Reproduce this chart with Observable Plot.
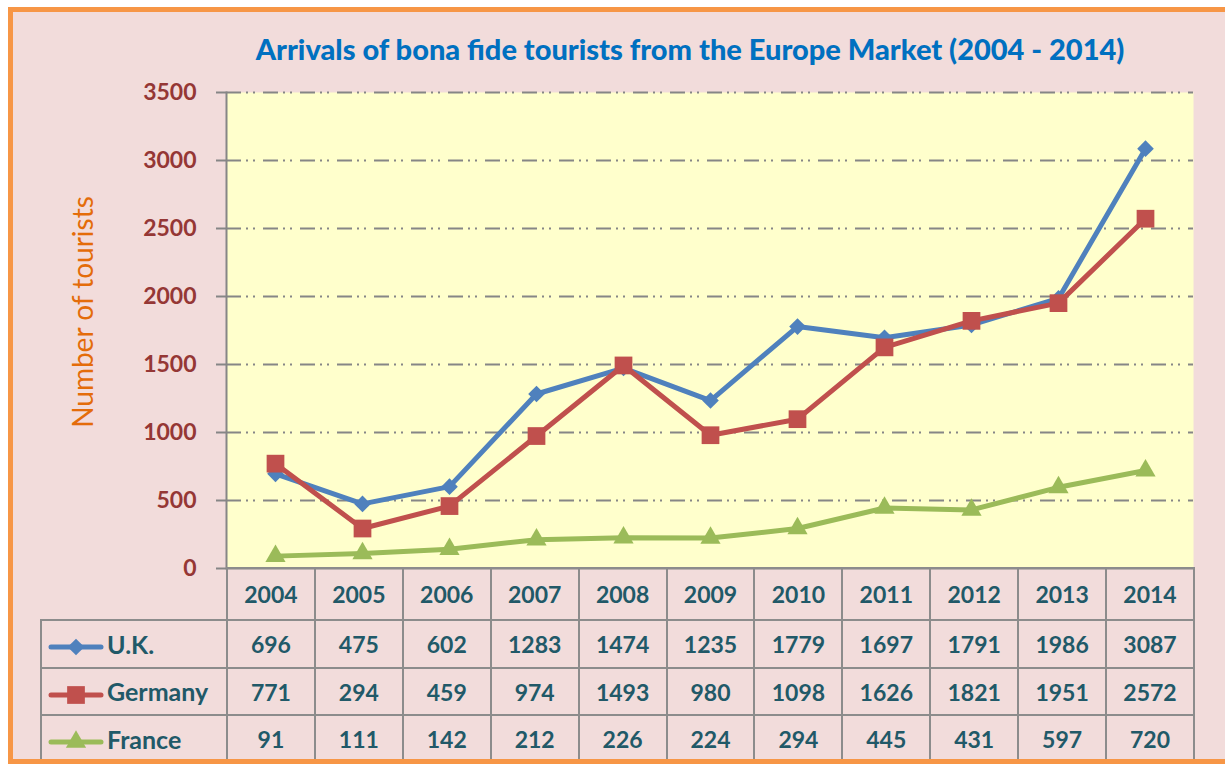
<!DOCTYPE html>
<html><head><meta charset="utf-8">
<script src="https://cdn.jsdelivr.net/npm/d3@7"></script>
<script src="https://cdn.jsdelivr.net/npm/@observablehq/plot@0.6"></script>
<style>
body{margin:0;background:#fff;}
#wrap{position:relative;width:1225px;height:764px;overflow:hidden;font-family:Lato,"Open Sans",sans-serif;}
#bg{position:absolute;left:8px;top:7px;width:1260px;height:757px;background:#f2dcdb;}
#frame{position:absolute;left:8px;top:7px;width:1260px;height:757px;border:5px solid #f79646;box-sizing:border-box;z-index:10;pointer-events:none;}
#title{position:absolute;left:190px;width:1000px;top:33px;text-align:center;color:#0070c0;font-weight:900;font-size:29px;line-height:32px;white-space:nowrap;}
#ylabel{position:absolute;left:82px;top:312px;transform:translate(-50%,-50%) rotate(-90deg);color:#e46c0a;font-size:28px;white-space:nowrap;}
#chart{position:absolute;left:0;top:0;}
#tbl{position:absolute;left:40px;top:567px;border-collapse:collapse;table-layout:fixed;color:#215968;font-weight:bold;font-size:23px;}
#tbl td{border:2px solid #8c8c8c;text-align:center;padding:0;}
#tbl td.blank{border-top:none;border-left:none;}
#tbl td.lab{text-align:left;padding-left:6px;white-space:nowrap;font-size:25px;}
#tbl td.lab svg{vertical-align:middle;margin-right:3px;}
</style></head>
<body>
<div id="wrap">
  <div id="bg"></div>
  <div id="title"></div>
  <div id="ylabel"></div>
  <div id="chart"></div>
  <div id="tbl-holder"></div>
  <div id="frame"></div>
</div>
<script>
const titleText = "Arrivals of bona fide tourists from the Europe Market (2004 - 2014)";
const yLabel = "Number of tourists";
const years = [2004, 2005, 2006, 2007, 2008, 2009, 2010, 2011, 2012, 2013, 2014];
const ukValues = [696, 475, 602, 1283, 1474, 1235, 1779, 1697, 1791, 1986, 3087];
const germanyValues = [771, 294, 459, 974, 1493, 980, 1098, 1626, 1821, 1951, 2572];
const franceValues = [91, 111, 142, 212, 226, 224, 294, 445, 431, 597, 720];
const yTicks = [0, 500, 1000, 1500, 2000, 2500, 3000, 3500];

const seriesList = [
  {name: "U.K.", values: ukValues, color: "#4f81bd", symbol: "diamond2", r: 7.5},
  {name: "Germany", values: germanyValues, color: "#c0504d", symbol: "square", r: 10},
  {name: "France", values: franceValues, color: "#9bbb59", symbol: "triangle", r: 7.5}
];

document.getElementById("title").textContent = titleText;
document.getElementById("ylabel").textContent = yLabel;

const W = 1225, H = 764, mL = 226, mR = 32, mT = 92, mB = 196;

const marks = [
  Plot.frame({fill: "#ffffcc", stroke: null}),
  Plot.gridY(yTicks.filter(d => d > 0), {stroke: "#868686", strokeOpacity: 1, strokeWidth: 2, strokeDasharray: "15,5,2,5,2,8"}),
  Plot.axisY(yTicks, {label: null, tickSize: 10, tickPadding: 20, stroke: "#868686", strokeWidth: 2, fill: "#953735", fontSize: 23, fontWeight: "bold", tickFormat: d => String(d)}),
  Plot.frame({anchor: "left", stroke: "#868686", strokeWidth: 2}),
  Plot.ruleY([0], {stroke: "#868686", strokeWidth: 2})
];
for (const s of seriesList) {
  const data = years.map((y, i) => ({year: y, value: s.values[i]}));
  marks.push(Plot.line(data, {x: "year", y: "value", stroke: s.color, strokeWidth: 5}));
  marks.push(Plot.dot(data, {x: "year", y: "value", symbol: () => s.symbol, fill: s.color, r: s.r, stroke: "none"}));
}

const chart = Plot.plot({
  width: W, height: H,
  marginLeft: mL, marginRight: mR, marginTop: mT, marginBottom: mB,
  style: {background: "transparent", fontFamily: "Lato, 'Open Sans', sans-serif", overflow: "visible"},
  x: {type: "point", domain: years, padding: 0.5, axis: null},
  y: {domain: [0, 3500], axis: null},
  symbol: {type: "identity"},
  marks
});
document.getElementById("chart").appendChild(chart);

// data table aligned to the x scale's columns
const step = (W - mL - mR) / years.length;
const firstW = mL - 40;
const tbl = document.createElement("table");
tbl.id = "tbl";
const cg = document.createElement("colgroup");
const c0 = document.createElement("col"); c0.style.width = firstW + "px"; cg.appendChild(c0);
years.forEach(() => { const c = document.createElement("col"); c.style.width = step + "px"; cg.appendChild(c); });
tbl.appendChild(cg);
tbl.style.width = (firstW + step * years.length) + "px";

const hr = document.createElement("tr"); hr.style.height = "52px";
const blank = document.createElement("td"); blank.className = "blank"; hr.appendChild(blank);
years.forEach(y => { const td = document.createElement("td"); td.textContent = y; hr.appendChild(td); });
tbl.appendChild(hr);

function swatch(s) {
  const svg = d3.create("svg").attr("width", 56).attr("height", 24);
  svg.append("line").attr("x1", 3).attr("x2", 53).attr("y1", 12).attr("y2", 12).attr("stroke", s.color).attr("stroke-width", 5).attr("stroke-linecap", "round");
  const sym = {diamond2: d3.symbolDiamond2, square: d3.symbolSquare, triangle: d3.symbolTriangle}[s.symbol];
  svg.append("path").attr("transform", "translate(28,12)").attr("d", d3.symbol(sym, s.r * s.r * Math.PI)()).attr("fill", s.color);
  return svg.node();
}
const rowH = [48, 47, 48];
seriesList.forEach((s, k) => {
  const tr = document.createElement("tr"); tr.style.height = rowH[k] + "px";
  const lab = document.createElement("td"); lab.className = "lab";
  lab.appendChild(swatch(s));
  lab.appendChild(document.createTextNode(s.name));
  tr.appendChild(lab);
  s.values.forEach(v => { const td = document.createElement("td"); td.textContent = v; tr.appendChild(td); });
  tbl.appendChild(tr);
});
document.getElementById("tbl-holder").appendChild(tbl);
</script>
</body></html>
